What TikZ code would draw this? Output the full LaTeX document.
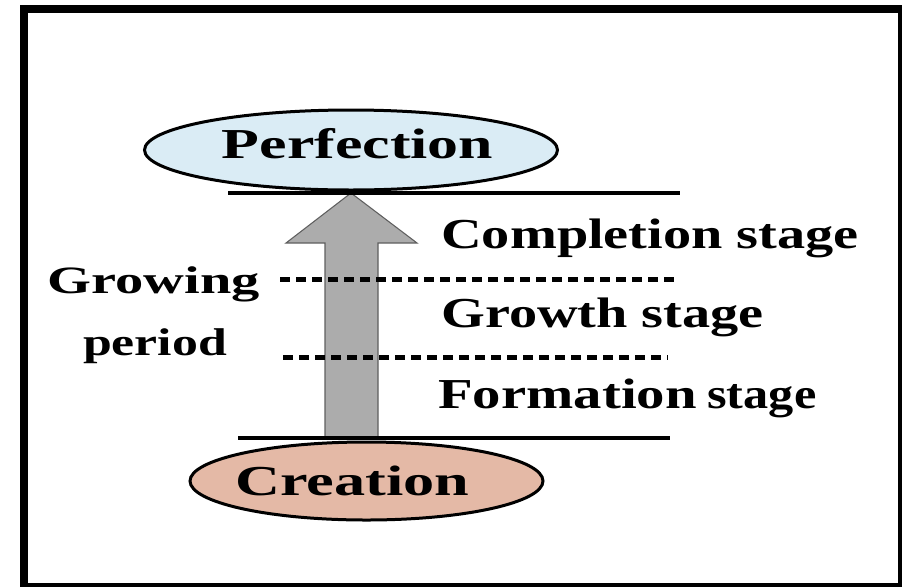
\documentclass[tikz,border=0pt]{standalone}
\usepackage{fontspec}
\usepackage{graphicx}
\setmainfont{Liberation Serif}
\usetikzlibrary{shapes.geometric}
\newcommand{\wide}[2]{\scalebox{#1}[1]{#2}}
\tikzset{
  bigtxt/.style={font=\fontsize{32}{38}\selectfont\bfseries, inner sep=0.75pt},
  sidetxt/.style={font=\fontsize{29}{35}\selectfont\bfseries, inner sep=0.75pt},
  oval/.style={ellipse, draw, line width=2.25pt, inner sep=0pt},
  dotline/.style={line width=3.75pt, dash pattern={on 7.5pt off 4.5pt}},
}
\begin{document}
\begin{tikzpicture}[x=0.75pt,y=0.75pt,yscale=-1,xscale=1]
\clip (0,0) rectangle (902,586);

%Shape: Rectangle [frame]
\draw [line width=6pt] (24,9) rectangle (902,587) ;

%Shape: Ellipse [perfection]
\draw (351,150) node (perf) [oval, fill={rgb, 255:red, 218; green, 236; blue, 245 }, minimum width=309.75pt, minimum height=60pt] {};
%Shape: Ellipse [creation]
\draw (366.5,481) node (crea) [oval, fill={rgb, 255:red, 228; green, 185; blue, 166 }, minimum width=264.75pt, minimum height=58.5pt] {};

%Straight Lines [top and bottom bars]
\coordinate (tip) at (351,193) ;
\coordinate (base) at (351,438) ;
%Shape: Up Arrow
\draw [color={rgb, 255:red, 95; green, 95; blue, 95 }, fill={rgb, 255:red, 172; green, 172; blue, 172 }, line width=0.8pt] (tip) -- ++(66,50) -- ++(-39,0) -- (base -| 378,0) -- (base -| 325,0) -- ++(0,-195) -- ++(-39,0) -- cycle ;
\draw [line width=3pt] (228,193) -- (tip) -- (680,193) ;
\draw [line width=3pt] (238,438) -- (base) -- (670,438) ;

%Straight Lines [dotted]
\draw [dotline] (280,279) -- (675,279) ;
\draw [dotline] (283,357) -- (668,357) ;

% Text Node
\draw (357.5,158) node (perftxt) [bigtxt, anchor=base] {\wide{1.45}{Perfection}};
% Text Node
\draw (352.5,495) node (creatxt) [bigtxt, anchor=base] {\wide{1.46}{Creation}};
% Text Node
\draw (440,248) node (compl) [bigtxt, anchor=base west] {\wide{1.32}{Completion stage}};
% Text Node
\draw (440,327) node (growth) [bigtxt, anchor=base west] {\wide{1.32}{Growth stage}};
% Text Node
\draw (437,408) node (form) [bigtxt, anchor=base west] {\wide{1.33}{Formation} \wide{1.18}{stage}};
% Text Node
\draw (153.5,293) node (growing) [sidetxt, anchor=base] {\wide{1.46}{Growing}};
% Text Node
\draw (155,355) node (period) [sidetxt, anchor=base] {\wide{1.34}{period}};

\end{tikzpicture}
\end{document}
